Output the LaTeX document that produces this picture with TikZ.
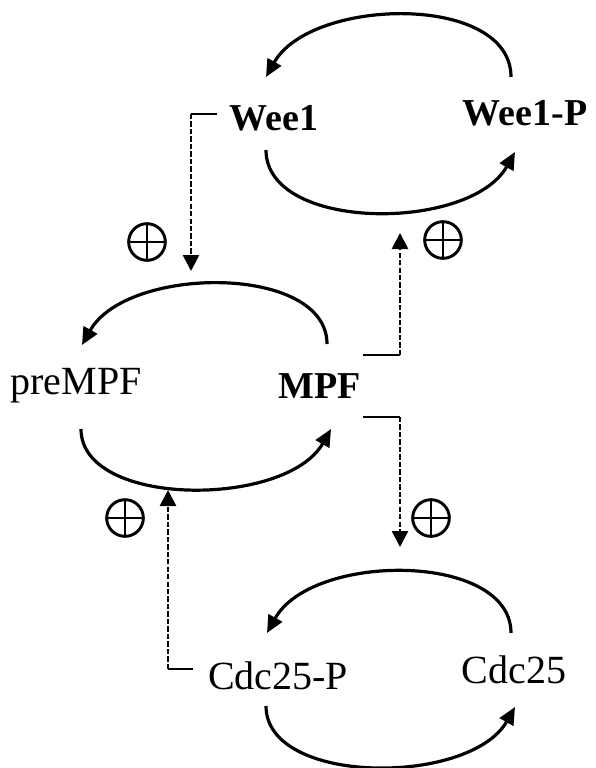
\documentclass[tikz,border=0pt]{standalone}
\usepackage{fontspec}
\setmainfont{Liberation Serif}
\usetikzlibrary{arrows.meta}
\begin{document}
\begin{tikzpicture}[x=0.75pt,y=-0.75pt,
  lbl/.style={inner sep=0pt, anchor=base, font=\fontsize{30}{36}\selectfont},
  blbl/.style={inner sep=0pt, anchor=base, font=\fontsize{28.5}{34}\selectfont\bfseries},
  cyc/.style={line width=2.4pt, -{Triangle[length=13pt,width=11.5pt]}},
  reg/.style={line width=2pt, dash pattern=on 4pt off 1.6pt, -{Triangle[length=12pt,width=12pt]}},
  brk/.style={line width=2pt},
  plusmark/.style={circle, draw, line width=2.2pt, minimum size=27.5pt, inner sep=0pt,
    path picture={\draw[line width=2.2pt]
      (path picture bounding box.north) -- (path picture bounding box.south)
      (path picture bounding box.west) -- (path picture bounding box.east);}}
]
\useasboundingbox (0,0) rectangle (596,768);

% labels
\node[blbl] (wee1)   at (274,130) {Wee1};
\node[blbl] (wee1p)  at (525,125) {Wee1-P};
\node[lbl]  (prempf) at (76,394)  {preMPF};
\node[blbl] (mpf)    at (320,398) {MPF};
\node[lbl]  (cdcp)   at (278,689) {Cdc25-P};
\node[lbl]  (cdc)    at (514,683) {Cdc25};

% plus marks
\node[plusmark] (o1) at (147,242) {};
\node[plusmark] (o2) at (443,240) {};
\node[plusmark] (o3) at (125,518) {};
\node[plusmark] (o4) at (431,518) {};

% loop end points
\coordinate (wpT) at (511,77);  \coordinate (wT)  at (266,77);
\coordinate (wB)  at (266,150); \coordinate (wpB) at (515,152);
\coordinate (mT)  at (327,344); \coordinate (pT)  at (82,345);
\coordinate (pB)  at (81,429);  \coordinate (mB)  at (331,429);
\coordinate (cT)  at (511,633); \coordinate (cpT) at (267,633);
\coordinate (cpB) at (266,706); \coordinate (cB)  at (515,707);

% Wee1 loop
\draw[cyc] (wpT) .. controls (511,-7) and (311,-3) .. (wT);
\draw[cyc] (wB) .. controls (266,232) and (470,232) .. (wpB);
% MPF loop
\draw[cyc] (mT) .. controls (327,264) and (127,265) .. (pT);
\draw[cyc] (pB) .. controls (81,508) and (286,508) .. (mB);
% Cdc25 loop
\draw[cyc] (cT) .. controls (511,552) and (312,552) .. (cpT);
\draw[cyc] (cpB) .. controls (266,786) and (470,786) .. (cB);

% regulatory connectors
\coordinate (a1) at (217,114); \coordinate (a1c) at (191,114); \coordinate (a1e) at (191,271);
\draw[brk] (a1) -- (a1c);
\draw[reg] (a1c) -- (a1e);

\coordinate (b1) at (363,355); \coordinate (b1c) at (400,355); \coordinate (b1e) at (400,233);
\draw[brk] (b1) -- (b1c);
\draw[reg] (b1c) -- (b1e);

\coordinate (b2) at (363,417); \coordinate (b2c) at (400,417); \coordinate (b2e) at (400,547);
\draw[brk] (b2) -- (b2c);
\draw[reg] (b2c) -- (b2e);

\coordinate (c1) at (193,669); \coordinate (c1c) at (168,669); \coordinate (c1e) at (168,490);
\draw[brk] (c1) -- (c1c);
\draw[reg] (c1c) -- (c1e);
\end{tikzpicture}
\end{document}
